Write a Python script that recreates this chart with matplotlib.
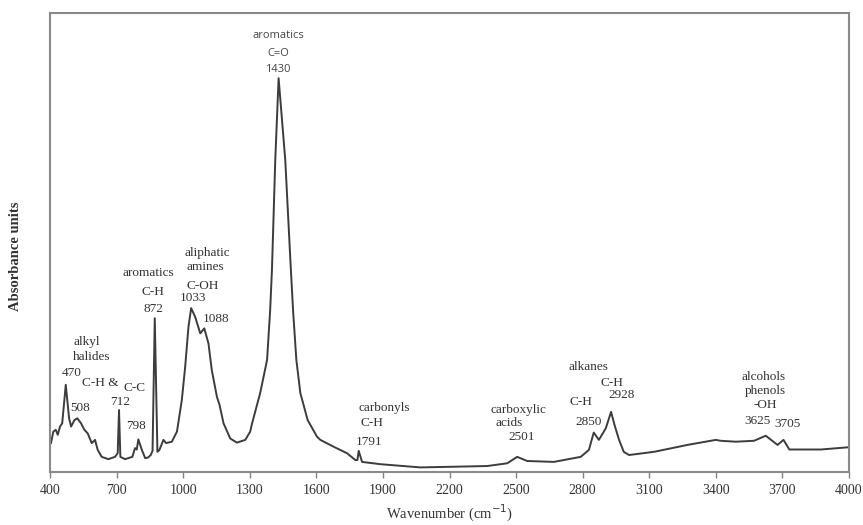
import numpy as np
import matplotlib
matplotlib.use("Agg")
import matplotlib.pyplot as plt

# spectrum (wavenumber in cm-1, absorbance in arbitrary units)
wavenumber = [400, 404, 415, 426, 435, 445, 455, 471, 486, 495, 510, 523, 540, 555,
              570, 588, 603, 615, 633, 663, 693, 705, 711, 717, 738, 771, 783, 791,
              798, 814, 829, 843, 854, 862, 872, 884, 893, 911, 923, 949, 972, 994,
              1009, 1024, 1036, 1054, 1077, 1095, 1114, 1129, 1152, 1164, 1182, 1212,
              1242, 1280, 1302, 1310, 1347, 1378, 1392, 1400, 1415, 1430, 1460, 1483,
              1495, 1510, 1528, 1561, 1603, 1618, 1678, 1738, 1776, 1785, 1791, 1806,
              1889, 2069, 2370, 2460, 2505, 2550, 2670, 2791, 2828, 2850, 2873, 2904,
              2928, 2945, 2964, 2985, 3009, 3122, 3272, 3400, 3422, 3490, 3572, 3625,
              3678, 3705, 3731, 3873, 4000]
absorbance = [0.075, 0.062, 0.088, 0.092, 0.081, 0.099, 0.106, 0.190, 0.117, 0.099,
              0.113, 0.117, 0.106, 0.092, 0.084, 0.063, 0.070, 0.048, 0.033, 0.028,
              0.033, 0.041, 0.135, 0.033, 0.028, 0.033, 0.052, 0.049, 0.071, 0.048,
              0.030, 0.032, 0.037, 0.046, 0.335, 0.044, 0.048, 0.070, 0.063, 0.066,
              0.088, 0.157, 0.229, 0.317, 0.357, 0.338, 0.302, 0.313, 0.280, 0.222,
              0.164, 0.146, 0.106, 0.073, 0.064, 0.070, 0.088, 0.105, 0.172, 0.244,
              0.353, 0.440, 0.680, 0.858, 0.680, 0.462, 0.353, 0.244, 0.172, 0.113,
              0.077, 0.070, 0.055, 0.041, 0.026, 0.026, 0.046, 0.022, 0.017, 0.010,
              0.013, 0.019, 0.033, 0.024, 0.022, 0.033, 0.048, 0.086, 0.070, 0.095,
              0.131, 0.100, 0.070, 0.044, 0.037, 0.044, 0.059, 0.070, 0.068, 0.066,
              0.068, 0.079, 0.059, 0.070, 0.049, 0.049, 0.054]

xticks = [400, 700, 1000, 1300, 1600, 1900, 2200, 2500, 2800, 3100, 3400, 3700, 4000]

# peak labels: text, x (cm-1), y (absorbance units), alignment
labels = [
    ("aromatics", 1428, 0.950, "center"), ("C=O", 1428, 0.911, "center"),
    ("1430", 1428, 0.877, "center"),
    ("alkyl", 504, 0.284, "left"), ("halides", 504, 0.251, "left"),
    ("470", 499, 0.216, "center"), ("C-H &", 625, 0.194, "center"),
    ("C-C", 779, 0.184, "center"), ("712", 716, 0.153, "center"),
    ("508", 535, 0.139, "center"), ("798", 786, 0.100, "center"),
    ("aromatics", 842, 0.434, "center"), ("C-H", 865, 0.393, "center"),
    ("872", 865, 0.355, "center"),
    ("aliphatic", 1108, 0.478, "center"), ("amines", 1099, 0.447, "center"),
    ("C-OH", 1090, 0.405, "center"), ("1033", 1043, 0.379, "center"),
    ("1088", 1147, 0.333, "center"),
    ("carbonyls", 1789, 0.139, "left"), ("C-H", 1798, 0.107, "left"),
    ("1791", 1776, 0.066, "left"),
    ("carboxylic", 2509, 0.135, "center"), ("acids", 2470, 0.107, "center"),
    ("2501", 2525, 0.076, "center"),
    ("alkanes", 2827, 0.229, "center"), ("C-H", 2934, 0.194, "center"),
    ("2928", 2975, 0.168, "center"), ("C-H", 2791, 0.153, "center"),
    ("2850", 2827, 0.110, "center"),
    ("alcohols", 3614, 0.207, "center"), ("phenols", 3621, 0.176, "center"),
    ("-OH", 3621, 0.146, "center"), ("3625", 3588, 0.112, "center"),
    ("3705", 3723, 0.104, "center"),
]

plt.rcParams['font.family'] = ['Liberation Serif', 'DejaVu Serif']

fig = plt.figure(figsize=(8.63, 5.25), dpi=100)
ax = fig.add_axes([50/863, 1-472/525, 799/863, 459/525])

ax.plot(wavenumber, absorbance, color="#3c3c3c", lw=1.4)

ax.set_xlim(400, 4000)
ax.set_ylim(0, 1)
ax.set_xticks(xticks)
ax.set_yticks([])
ax.tick_params(axis="x", direction="out", length=4, width=1, color="#808080",
               labelsize=10, labelcolor="#333333", pad=5)
for sp in ax.spines.values():
    sp.set_color("#8a8a8a")
    sp.set_linewidth(1.5)

ax.set_xlabel("Wavenumber (cm$^{-1}$)", fontsize=10.5, color="#333333", labelpad=4)
ax.set_ylabel("Absorbance units", fontsize=10.5, fontweight="bold", color="#333333")
ax.yaxis.set_label_coords(-0.035, 0.47)

for i, (txt, x, y, ha) in enumerate(labels):
    if i < 3:
        ax.text(x, y, txt, ha=ha, va="center", fontsize=8, color="#444444",
                family=["Open Sans", "DejaVu Sans"])
    else:
        ax.text(x, y, txt, ha=ha, va="center", fontsize=9.5, color="#333333")

fig.savefig("out.png", dpi=100)
